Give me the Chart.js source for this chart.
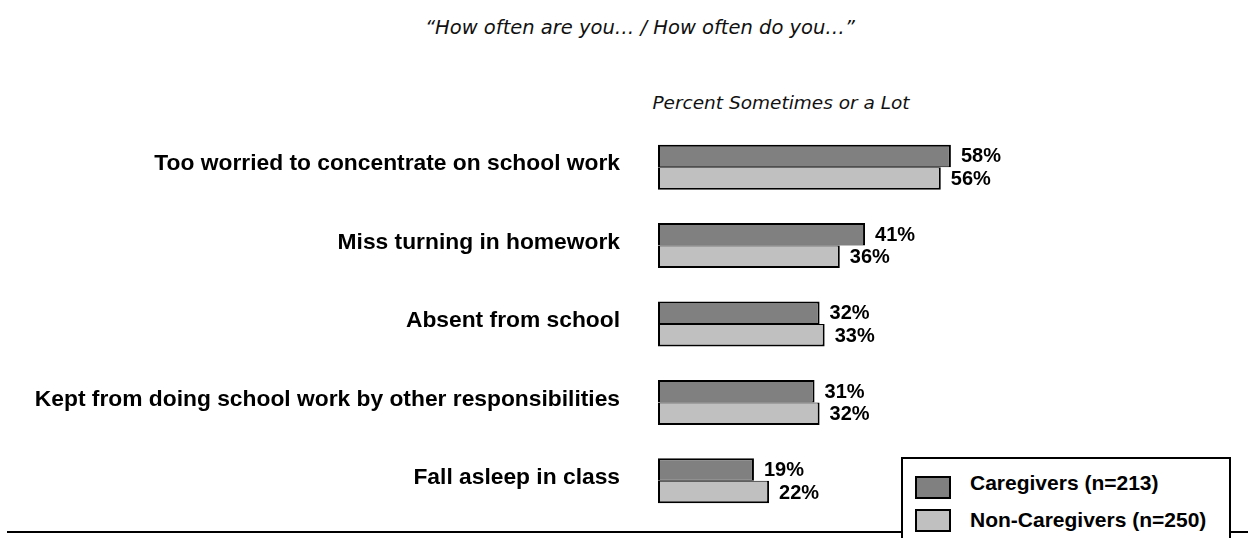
<!DOCTYPE html>
<html lang="en">
<head>
  <meta charset="UTF-8" />
  <title>School Impact: Caregivers vs Non-Caregivers</title>
  <style>
    * { margin: 0; padding: 0; box-sizing: border-box; }
    body {
      background: #ffffff;
      color: #000000;
      font-family: 'Liberation Sans', Arial, sans-serif;
      overflow: hidden;
    }
    .page {
      position: relative;
      width: 1248px;
      height: 538px;
    }
    .question {
      position: absolute;
      left: 240px;
      width: 800px;
      top: 16px;
      text-align: center;
      font-family: 'DejaVu Sans', sans-serif;
      font-style: italic;
      font-size: 19.5px;
      color: #111;
    }
    .measure {
      position: absolute;
      left: 581px;
      width: 400px;
      top: 92px;
      text-align: center;
      font-family: 'DejaVu Sans', sans-serif;
      font-style: italic;
      font-size: 18.5px;
      color: #111;
    }
    .rule {
      position: absolute;
      left: 7px;
      right: 0;
      top: 531px;
      border-top: 2px solid #000;
    }
    #schoolChart {
      position: absolute;
      left: 0;
      top: 0;
    }
    /* legend box sits over the bottom rule and runs off the page */
    #legend {
      position: absolute;
      left: 901px;
      top: 457px;
      width: 330px;
      height: 100px;
      background: #fff;
      border: 2px solid #000;
    }
    .legend-swatch {
      position: absolute;
      left: 12px;
      width: 36px;
      height: 23px;
      border: 2px solid #000;
    }
    .legend-text {
      position: absolute;
      left: 67px;
      font-weight: bold;
      font-size: 21px;
      line-height: 24px;
      white-space: nowrap;
    }
  </style>
</head>
<body>
  <div class="page">
    <div class="question">“How often are you… / How often do you…”</div>
    <div class="measure">Percent Sometimes or a Lot</div>
    <div class="rule"></div>
    <canvas id="schoolChart" width="1248" height="538"></canvas>
    <div id="legend"></div>
  </div>

  <script src="https://cdn.jsdelivr.net/npm/chart.js"></script>
  <script>
    const categories = [
      "Too worried to concentrate on school work",
      "Miss turning in homework",
      "Absent from school",
      "Kept from doing school work by other responsibilities",
      "Fall asleep in class"
    ];
    const caregivers = [58, 41, 32, 31, 19];
    const nonCaregivers = [56, 36, 33, 32, 22];
    const seriesNames = ["Caregivers (n=213)", "Non-Caregivers (n=250)"];
    const seriesColors = ["#808080", "#c0c0c0"];

    // percent labels at the end of each bar
    const valueLabels = {
      id: "valueLabels",
      afterDatasetsDraw(chart) {
        const ctx = chart.ctx;
        ctx.save();
        ctx.font = "bold 20px 'Liberation Sans', Arial, sans-serif";
        ctx.fillStyle = "#000";
        ctx.textAlign = "left";
        ctx.textBaseline = "middle";
        chart.data.datasets.forEach((ds, i) => {
          chart.getDatasetMeta(i).data.forEach((bar, j) => {
            ctx.fillText(ds.data[j] + "%", bar.x + 10, bar.y + 1);
          });
        });
        ctx.restore();
      }
    };

    const ctx = document.getElementById("schoolChart").getContext("2d");
    const chart = new Chart(ctx, {
      type: "bar",
      data: {
        labels: categories,
        datasets: [
          {
            label: seriesNames[0],
            data: caregivers,
            backgroundColor: seriesColors[0],
            borderColor: "#000",
            borderWidth: { top: 2, right: 2, bottom: 1, left: 2 },
            borderSkipped: false
          },
          {
            label: seriesNames[1],
            data: nonCaregivers,
            backgroundColor: seriesColors[1],
            borderColor: "#000",
            borderWidth: { top: 1, right: 2, bottom: 2, left: 2 },
            borderSkipped: false
          }
        ]
      },
      options: {
        indexAxis: "y",
        responsive: false,
        animation: false,
        events: [],
        layout: { padding: { top: 128, bottom: 18, right: 85, left: 0 } },
        datasets: {
          bar: { categoryPercentage: 0.574, barPercentage: 1.0 }
        },
        scales: {
          x: {
            display: false,
            min: 0,
            max: 100
          },
          y: {
            // gap between label and bar comes from the (hidden) tick length,
            // tick padding would also pad the axis top/bottom
            grid: { display: false, drawTicks: true, tickLength: 38 },
            border: { display: false },
            ticks: {
              color: "#000",
              padding: 0,
              labelOffset: -3,
              font: { family: "'Liberation Sans', Arial, sans-serif", size: 22.8, weight: "bold" }
            },
            afterFit(scale) { scale.width = 658; }
          }
        },
        plugins: {
          legend: { display: false },
          tooltip: { enabled: false },
          title: { display: false }
        }
      },
      plugins: [valueLabels]
    });

    // legend built from the chart's datasets
    const legendEl = document.getElementById("legend");
    const swatchTops = [17, 50];
    const textTops = [12, 49];
    chart.data.datasets.forEach((ds, i) => {
      const sw = document.createElement("span");
      sw.className = "legend-swatch";
      sw.style.background = ds.backgroundColor;
      sw.style.top = swatchTops[i] + "px";
      const txt = document.createElement("span");
      txt.className = "legend-text";
      txt.style.top = textTops[i] + "px";
      txt.textContent = ds.label;
      legendEl.appendChild(sw);
      legendEl.appendChild(txt);
    });
  </script>
</body>
</html>
